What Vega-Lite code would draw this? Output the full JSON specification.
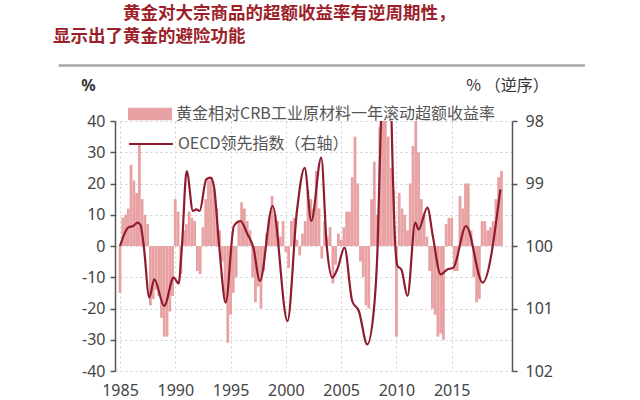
{
  "$schema": "https://vega.github.io/schema/vega-lite/v6.json",
  "width": 397,
  "height": 250,
  "autosize": {"type": "none"},
  "padding": {"left": 115, "top": 121, "right": 128, "bottom": 29},
  "background": "white",
  "title": {
    "text": ["\u200b　　　　黄金对大宗商品的超额收益率有逆周期性，", "显示出了黄金的避险功能"],
    "anchor": "start",
    "frame": "group",
    "dx": -62,
    "offset": 19,
    "font": "Noto Sans CJK SC",
    "fontSize": 17.5,
    "fontWeight": "bold",
    "color": "#9c1f2a",
    "lineHeight": 23
  },
  "datasets": {
    "gold": [
      {"t": 1985.0, "v": -15}, {"t": 1985.25, "v": 9}, {"t": 1985.5, "v": 10}, {"t": 1985.75, "v": 12},
      {"t": 1986.0, "v": 26}, {"t": 1986.25, "v": 21}, {"t": 1986.5, "v": 17}, {"t": 1986.75, "v": 33},
      {"t": 1987.0, "v": 15}, {"t": 1987.25, "v": 10}, {"t": 1987.5, "v": 7}, {"t": 1987.75, "v": -19},
      {"t": 1988.0, "v": -17}, {"t": 1988.25, "v": -14}, {"t": 1988.5, "v": -16}, {"t": 1988.75, "v": -23},
      {"t": 1989.0, "v": -29}, {"t": 1989.25, "v": -29}, {"t": 1989.5, "v": -21}, {"t": 1989.75, "v": -16},
      {"t": 1990.0, "v": 15}, {"t": 1990.25, "v": 11}, {"t": 1990.5, "v": -9}, {"t": 1990.75, "v": 5},
      {"t": 1991.0, "v": 7}, {"t": 1991.25, "v": 11}, {"t": 1991.5, "v": 9}, {"t": 1991.75, "v": 8},
      {"t": 1992.0, "v": -8}, {"t": 1992.25, "v": -9}, {"t": 1992.5, "v": 6}, {"t": 1992.75, "v": 15},
      {"t": 1993.0, "v": 21}, {"t": 1993.25, "v": 22}, {"t": 1993.5, "v": 18}, {"t": 1993.75, "v": 12},
      {"t": 1994.0, "v": 5}, {"t": 1994.25, "v": -5}, {"t": 1994.5, "v": -18}, {"t": 1994.75, "v": -31},
      {"t": 1995.0, "v": -22}, {"t": 1995.25, "v": -15}, {"t": 1995.5, "v": -10}, {"t": 1995.75, "v": 8},
      {"t": 1996.0, "v": 14}, {"t": 1996.25, "v": 12}, {"t": 1996.5, "v": 8}, {"t": 1996.75, "v": 5},
      {"t": 1997.0, "v": -10}, {"t": 1997.25, "v": -18}, {"t": 1997.5, "v": -13}, {"t": 1997.75, "v": -20},
      {"t": 1998.0, "v": -8}, {"t": 1998.25, "v": 4}, {"t": 1998.5, "v": 9}, {"t": 1998.75, "v": 16},
      {"t": 1999.0, "v": 10}, {"t": 1999.25, "v": 8}, {"t": 1999.5, "v": 3}, {"t": 1999.75, "v": 8},
      {"t": 2000.0, "v": -2}, {"t": 2000.25, "v": -7}, {"t": 2000.5, "v": 8}, {"t": 2000.75, "v": 9},
      {"t": 2001.0, "v": 2}, {"t": 2001.25, "v": -3}, {"t": 2001.5, "v": 4}, {"t": 2001.75, "v": 8},
      {"t": 2002.0, "v": 18}, {"t": 2002.25, "v": 15}, {"t": 2002.5, "v": 12}, {"t": 2002.75, "v": 24},
      {"t": 2003.0, "v": 12}, {"t": 2003.25, "v": -4}, {"t": 2003.5, "v": 8}, {"t": 2003.75, "v": 3},
      {"t": 2004.0, "v": 6}, {"t": 2004.25, "v": -12}, {"t": 2004.5, "v": -6}, {"t": 2004.75, "v": 4},
      {"t": 2005.0, "v": 2}, {"t": 2005.25, "v": 6}, {"t": 2005.5, "v": 11}, {"t": 2005.75, "v": 11},
      {"t": 2006.0, "v": 22}, {"t": 2006.25, "v": 35}, {"t": 2006.5, "v": 20}, {"t": 2006.75, "v": -5},
      {"t": 2007.0, "v": -10}, {"t": 2007.25, "v": -19}, {"t": 2007.5, "v": -20}, {"t": 2007.75, "v": 15},
      {"t": 2008.0, "v": 27}, {"t": 2008.25, "v": 10}, {"t": 2008.5, "v": 38}, {"t": 2008.75, "v": 40},
      {"t": 2009.0, "v": 40}, {"t": 2009.25, "v": 35}, {"t": 2009.5, "v": 25}, {"t": 2009.75, "v": 18},
      {"t": 2010.0, "v": -29}, {"t": 2010.25, "v": 17}, {"t": 2010.5, "v": 12}, {"t": 2010.75, "v": 10},
      {"t": 2011.0, "v": 5}, {"t": 2011.25, "v": 20}, {"t": 2011.5, "v": 32}, {"t": 2011.75, "v": 40},
      {"t": 2012.0, "v": 30}, {"t": 2012.25, "v": 15}, {"t": 2012.5, "v": 10}, {"t": 2012.75, "v": 3},
      {"t": 2013.0, "v": -8}, {"t": 2013.25, "v": -20}, {"t": 2013.5, "v": -22}, {"t": 2013.75, "v": -29},
      {"t": 2014.0, "v": -28}, {"t": 2014.25, "v": -30}, {"t": 2014.5, "v": 7}, {"t": 2014.75, "v": 9},
      {"t": 2015.0, "v": 9}, {"t": 2015.25, "v": -8}, {"t": 2015.5, "v": -8}, {"t": 2015.75, "v": 16},
      {"t": 2016.0, "v": 12}, {"t": 2016.25, "v": 20}, {"t": 2016.5, "v": 20}, {"t": 2016.75, "v": 5},
      {"t": 2017.0, "v": -10}, {"t": 2017.25, "v": -18}, {"t": 2017.5, "v": -17}, {"t": 2017.75, "v": 8},
      {"t": 2018.0, "v": 8}, {"t": 2018.25, "v": 5}, {"t": 2018.5, "v": 6}, {"t": 2018.75, "v": 8},
      {"t": 2019.0, "v": 15}, {"t": 2019.25, "v": 22}, {"t": 2019.5, "v": 24}
    ],
    "oecd": [
      {"t": 1985.0, "v": 100.0}, {"t": 1985.74, "v": 99.705}, {"t": 1986.18, "v": 99.68},
      {"t": 1986.6, "v": 99.625}, {"t": 1986.85, "v": 99.66}, {"t": 1987.15, "v": 100.0},
      {"t": 1987.65, "v": 100.825}, {"t": 1988.1, "v": 100.535}, {"t": 1989.0, "v": 100.96},
      {"t": 1989.85, "v": 100.505}, {"t": 1990.3, "v": 100.6}, {"t": 1990.6, "v": 100.0},
      {"t": 1991.03, "v": 98.8}, {"t": 1991.6, "v": 99.44}, {"t": 1991.9, "v": 99.415},
      {"t": 1992.2, "v": 99.44}, {"t": 1992.8, "v": 98.935}, {"t": 1993.2, "v": 98.905},
      {"t": 1993.5, "v": 99.05}, {"t": 1993.97, "v": 100.0}, {"t": 1994.56, "v": 100.905},
      {"t": 1995.3, "v": 99.68}, {"t": 1995.9, "v": 99.6}, {"t": 1996.5, "v": 99.8},
      {"t": 1997.06, "v": 100.025}, {"t": 1997.65, "v": 100.56}, {"t": 1998.8, "v": 99.36},
      {"t": 2000.15, "v": 101.2}, {"t": 2001.0, "v": 99.44}, {"t": 2001.7, "v": 98.75},
      {"t": 2002.3, "v": 99.6}, {"t": 2003.2, "v": 98.585}, {"t": 2003.7, "v": 100.0},
      {"t": 2004.2, "v": 100.505}, {"t": 2004.7, "v": 100.35}, {"t": 2005.3, "v": 100.025},
      {"t": 2006.0, "v": 100.88}, {"t": 2006.6, "v": 101.04}, {"t": 2007.36, "v": 101.575},
      {"t": 2007.95, "v": 101.04}, {"t": 2008.3, "v": 100.0}, {"t": 2008.6, "v": 98.0},
      {"t": 2008.9, "v": 95.0}, {"t": 2009.25, "v": 95.0}, {"t": 2009.56, "v": 98.0},
      {"t": 2009.9, "v": 100.0}, {"t": 2010.1, "v": 100.32}, {"t": 2010.45, "v": 100.375},
      {"t": 2011.0, "v": 100.8}, {"t": 2011.7, "v": 99.625}, {"t": 2012.0, "v": 99.735},
      {"t": 2012.8, "v": 99.385}, {"t": 2013.3, "v": 99.85}, {"t": 2014.0, "v": 100.455},
      {"t": 2014.6, "v": 100.375}, {"t": 2015.15, "v": 100.345}, {"t": 2016.3, "v": 99.68},
      {"t": 2017.8, "v": 100.585}, {"t": 2019.4, "v": 99.095}
    ]
  },
  "layer": [
    {
      "layer": [
        {
          "data": {"name": "gold"},
          "mark": {"type": "bar", "width": 2.8},
          "encoding": {
            "x": {
              "field": "t", "type": "quantitative",
              "scale": {"domain": [1985, 2020], "nice": false, "zero": false},
              "axis": {
                "values": [1985, 1990, 1995, 2000, 2005, 2010, 2015],
                "format": "d", "title": null, "domain": false, "ticks": false, "tickSize": 0,
                "labelPadding": 11, "labelFontSize": 16, "labelColor": "#444", "labelFont": "Noto Sans",
                "labelOverlap": false,
                "grid": true, "gridDash": [2, 3], "gridColor": "#cfcfcf", "gridWidth": 1
              }
            },
            "y": {
              "field": "v", "type": "quantitative",
              "scale": {"domain": [-40, 40], "nice": false},
              "axis": {
                "values": [-40, -30, -20, -10, 0, 10, 20, 30, 40],
                "tickCount": 9,
                "labelExpr": "datum.value + ''",
                "labelOverlap": false,
                "title": "%", "titleAngle": 0, "titleX": -27, "titleY": -36,
                "titleAlign": "center", "titleBaseline": "middle",
                "titleFontSize": 16, "titleFontWeight": "bold", "titleColor": "#333", "titleFont": "Noto Sans",
                "labelFontSize": 16, "labelColor": "#444", "labelFont": "Noto Sans", "labelPadding": 5,
                "domainColor": "#555", "domainWidth": 1.5, "tickColor": "#555", "tickSize": 5, "tickWidth": 1.5,
                "grid": true, "gridDash": [2, 3], "gridColor": "#cfcfcf", "gridWidth": 1
              }
            },
            "fill": {
              "datum": "黄金相对CRB工业原材料一年滚动超额收益率",
              "scale": {"range": ["#e8a2a4"]},
              "legend": {
                "orient": "none", "legendX": 13, "legendY": -29, "title": null,
                "symbolType": "M-1,-0.28H1V0.28H-1Z", "symbolSize": 1936, "symbolStrokeWidth": 0,
                "labelFont": "Noto Sans CJK SC", "labelFontSize": 16, "labelColor": "#555",
                "labelOffset": 4, "labelLimit": 600
              }
            }
          }
        },
        {
          "mark": {"type": "rule", "color": "#8a5a5a", "strokeWidth": 1.5},
          "encoding": {"y": {"datum": 0, "type": "quantitative"}}
        },
        {
          "data": {"values": [{}]},
          "mark": {"type": "rule", "color": "#a8a8a8", "strokeWidth": 2.5, "clip": false},
          "encoding": {
            "x": {"datum": 1979.45, "type": "quantitative"},
            "x2": {"datum": 2027.05},
            "y": {"datum": 57.8, "type": "quantitative"}
          }
        }
      ]
    },
    {
      "data": {"name": "oecd"},
      "mark": {"type": "line", "interpolate": "monotone", "clip": true, "strokeWidth": 2.2},
      "encoding": {
        "x": {"field": "t", "type": "quantitative"},
        "y": {
          "field": "v", "type": "quantitative",
          "scale": {"domain": [98, 102], "reverse": true, "nice": false, "zero": false},
          "axis": {
            "orient": "right",
            "values": [98, 99, 100, 101, 102],
            "labelOverlap": false,
            "title": "% （逆序）", "titleAngle": 0, "titleX": -5, "titleY": -36,
            "titleAlign": "center", "titleBaseline": "middle",
            "titleFontSize": 16, "titleFontWeight": "normal", "titleColor": "#333", "titleFont": "Noto Sans CJK SC",
            "labelFontSize": 16, "labelColor": "#444", "labelFont": "Noto Sans", "labelPadding": 8,
            "domainColor": "#555", "domainWidth": 1.5, "tickColor": "#555", "tickSize": 5, "tickWidth": 1.5,
            "grid": false
          }
        },
        "stroke": {
          "datum": "OECD领先指数（右轴）",
          "scale": {"range": ["#8e1b2e"]},
          "legend": {
            "orient": "none", "legendX": 13, "legendY": 0, "title": null,
            "symbolType": "stroke", "symbolSize": 1936, "symbolStrokeWidth": 2,
            "labelFont": "Noto Sans CJK SC", "labelFontSize": 16, "labelColor": "#555",
            "labelOffset": 4, "labelLimit": 600
          }
        }
      }
    }
  ],
  "resolve": {"scale": {"y": "independent"}},
  "config": {
    "view": {"stroke": null},
    "font": "Noto Sans CJK SC"
  }
}
